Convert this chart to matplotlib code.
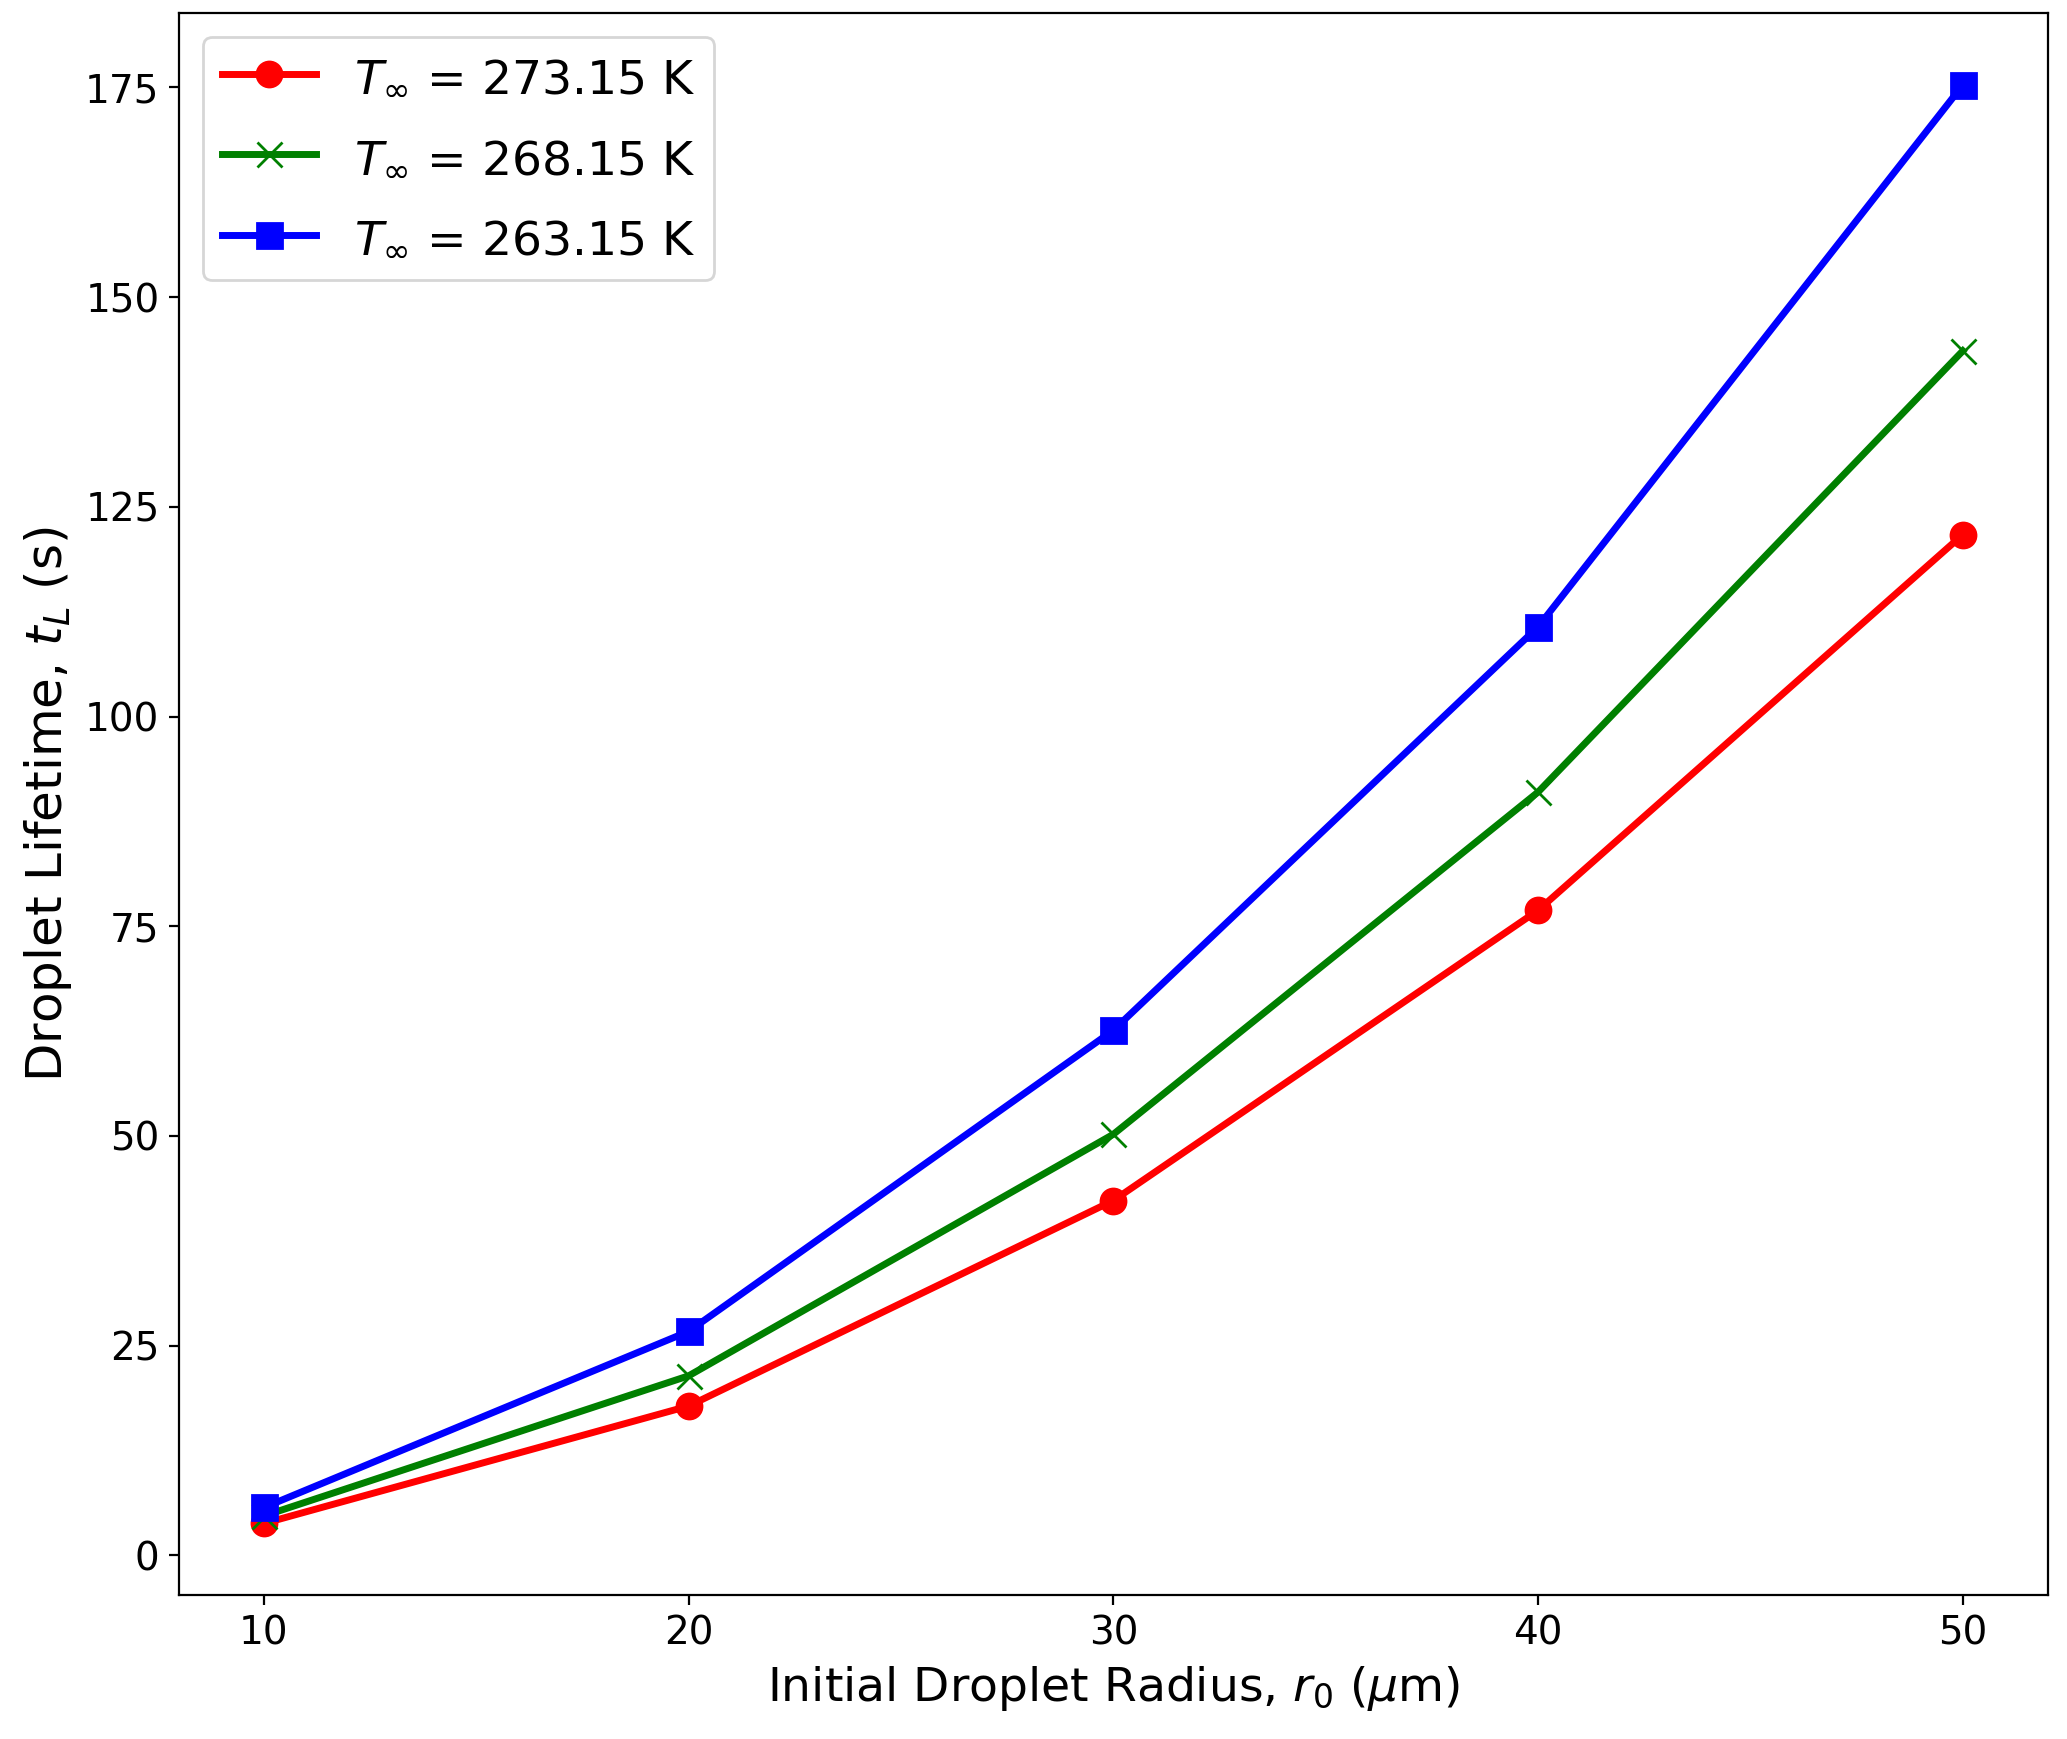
import matplotlib
matplotlib.use('Agg')
import matplotlib.pyplot as plt

# initial droplet radius (um)
radius = [10, 20, 30, 40, 50]

# droplet lifetime (s) for each ambient temperature
t_273 = [3.8, 17.8, 42.3, 76.9, 121.7]
t_268 = [4.7, 21.4, 50.2, 91.0, 143.6]
t_263 = [5.7, 26.7, 62.6, 110.7, 175.3]

labels = [r'$T_{\infty}$ = 273.15 K', r'$T_{\infty}$ = 268.15 K', r'$T_{\infty}$ = 263.15 K']

fig = plt.figure(figsize=(10.335, 8.695), dpi=200)
ax = fig.add_axes([0.0866, 0.0826, 0.9041, 0.9099])

ax.plot(radius, t_273, color='red', marker='o', lw=2.5, ms=9, label=labels[0])
ax.plot(radius, t_268, color='green', marker='x', lw=2.5, ms=9, label=labels[1])
ax.plot(radius, t_263, color='blue', marker='s', lw=2.5, ms=9, label=labels[2])

ax.set_xticks(radius)
ax.tick_params(labelsize=14)
ax.set_xlabel(r'Initial Droplet Radius, $r_0$ ($\mu$m)', fontsize=17)
ax.set_ylabel(r'Droplet Lifetime, $t_L$ (s)', fontsize=18)
ax.legend(loc='upper left', fontsize=17, labelspacing=0.75)

fig.savefig('out.png', dpi=200)
